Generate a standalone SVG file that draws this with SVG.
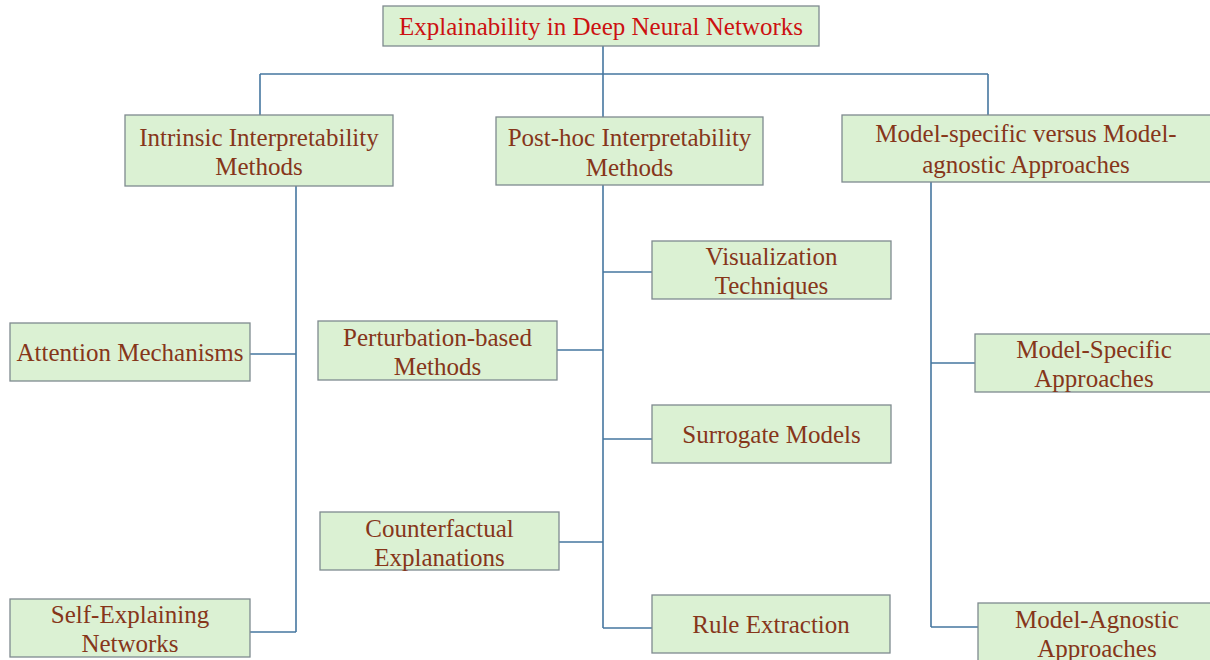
<svg xmlns="http://www.w3.org/2000/svg" width="1210" height="660" viewBox="0 0 1210 660">
<style>
.box{fill:#dbf1d3;stroke:#7f8a8f;stroke-width:1.3}
.t{font-family:"Liberation Serif","Times New Roman",serif;font-size:25px;fill:#86361a;text-anchor:middle}
.title{fill:#cc1111}
.c{fill:none;stroke:#4677a0;stroke-width:1.6}
</style>
<rect width="1210" height="660" fill="#ffffff"/>
<g id="connectors">
<path class="c" d="M603 46V74M260 74H988M260 74V115M603 74V117M988 74V115"/>
<path class="c" d="M296 186V632M250 354H296M250 632H296"/>
<path class="c" d="M603 185V628M603 272H652M557 350H603M603 439H652M559 542H603M603 628H652"/>
<path class="c" d="M931 182V627M931 363H975M931 627H978"/>
</g>
<g id="root"><rect class="box" x="383" y="6" width="436" height="40"/><text class="t title" x="601" y="35">Explainability in Deep Neural Networks</text></g>
<g id="intrinsic"><rect class="box" x="125" y="115" width="268" height="71"/><text class="t" x="259" y="146">Intrinsic Interpretability</text><text class="t" x="259" y="175">Methods</text></g>
<g id="posthoc"><rect class="box" x="496" y="117" width="267" height="68"/><text class="t" x="629.5" y="146">Post-hoc Interpretability</text><text class="t" x="629.5" y="176">Methods</text></g>
<g id="modelspecificversus"><rect class="box" x="842" y="115" width="370" height="67"/><text class="t" x="1026" y="142">Model-specific versus Model-</text><text class="t" x="1026" y="173">agnostic Approaches</text></g>
<g id="attention"><rect class="box" x="10" y="323" width="240" height="58"/><text class="t" x="130" y="361">Attention Mechanisms</text></g>
<g id="selfexplaining"><rect class="box" x="10" y="599" width="240" height="58"/><text class="t" x="130" y="623">Self-Explaining</text><text class="t" x="130" y="652">Networks</text></g>
<g id="visualization"><rect class="box" x="652" y="241" width="239" height="58"/><text class="t" x="771.5" y="265">Visualization</text><text class="t" x="771.5" y="294">Techniques</text></g>
<g id="perturbation"><rect class="box" x="318" y="321" width="239" height="59"/><text class="t" x="437.5" y="346">Perturbation-based</text><text class="t" x="437.5" y="375">Methods</text></g>
<g id="surrogate"><rect class="box" x="652" y="405" width="239" height="58"/><text class="t" x="771.5" y="443">Surrogate Models</text></g>
<g id="counterfactual"><rect class="box" x="320" y="512" width="239" height="58"/><text class="t" x="439.5" y="537">Counterfactual</text><text class="t" x="439.5" y="566">Explanations</text></g>
<g id="rule"><rect class="box" x="652" y="595" width="238" height="58"/><text class="t" x="771" y="633">Rule Extraction</text></g>
<g id="modelspecific"><rect class="box" x="975" y="334" width="237" height="58"/><text class="t" x="1094" y="358">Model-Specific</text><text class="t" x="1094" y="387">Approaches</text></g>
<g id="modelagnostic"><rect class="box" x="978" y="603" width="234" height="60"/><text class="t" x="1097" y="628">Model-Agnostic</text><text class="t" x="1097" y="657">Approaches</text></g>
</svg>
